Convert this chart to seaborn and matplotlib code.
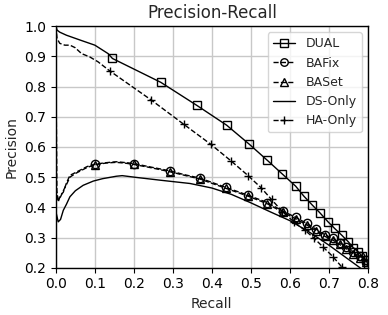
import matplotlib
matplotlib.use("Agg")
import matplotlib.pyplot as plt
import seaborn as sns

# curves (recall, precision); the first point is the
# usual (0, 1) end of a precision-recall curve
dual_recall = [0.0, 0.003, 0.01, 0.027, 0.062, 0.1, 0.134, 0.145, 0.269, 0.361,
               0.438, 0.496, 0.542, 0.581, 0.615, 0.636, 0.658, 0.677, 0.698,
               0.715, 0.733, 0.75, 0.762, 0.775, 0.786, 0.796, 0.8]
dual_precision = [1.0, 0.987, 0.98, 0.97, 0.954, 0.937, 0.909, 0.893, 0.814, 0.738,
                  0.672, 0.609, 0.556, 0.51, 0.47, 0.437, 0.407, 0.382, 0.352,
                  0.33, 0.308, 0.286, 0.267, 0.253, 0.238, 0.225, 0.212]
dual_marks = [0.145, 0.269, 0.361, 0.438, 0.496, 0.542, 0.581, 0.615, 0.636, 0.658,
              0.677, 0.698, 0.715, 0.733, 0.75, 0.762, 0.775, 0.786, 0.796, 0.8]

bafix_recall = [0.0, 0.002, 0.006, 0.012, 0.019, 0.027, 0.036, 0.05, 0.062, 0.08,
                0.1, 0.13, 0.155, 0.18, 0.2, 0.241, 0.292, 0.33, 0.369, 0.436,
                0.493, 0.542, 0.583, 0.615, 0.643, 0.668, 0.69, 0.711, 0.728,
                0.745, 0.762, 0.779, 0.795, 0.8]
bafix_precision = [1.0, 0.457, 0.418, 0.44, 0.45, 0.48, 0.506, 0.515, 0.523, 0.535,
                   0.543, 0.548, 0.551, 0.548, 0.545, 0.534, 0.521, 0.508, 0.497, 0.466,
                   0.44, 0.416, 0.387, 0.367, 0.347, 0.327, 0.309, 0.297, 0.283,
                   0.269, 0.253, 0.238, 0.225, 0.21]
bafix_marks = [0.1, 0.2, 0.292, 0.369, 0.436, 0.493, 0.542, 0.583, 0.615, 0.643,
               0.668, 0.69, 0.711, 0.728, 0.745, 0.762, 0.779, 0.795]

baset_recall = [0.0, 0.002, 0.006, 0.012, 0.019, 0.027, 0.036, 0.05, 0.062, 0.08,
                0.1, 0.13, 0.155, 0.18, 0.2, 0.241, 0.292, 0.33, 0.369, 0.436,
                0.493, 0.542, 0.583, 0.615, 0.643, 0.668, 0.69, 0.711, 0.728,
                0.745, 0.762, 0.779, 0.795, 0.8]
baset_precision = [1.0, 0.45, 0.425, 0.435, 0.455, 0.475, 0.5, 0.512, 0.52, 0.532,
                   0.541, 0.547, 0.549, 0.546, 0.542, 0.532, 0.518, 0.506, 0.494, 0.463,
                   0.437, 0.412, 0.383, 0.362, 0.342, 0.322, 0.304, 0.291, 0.277,
                   0.263, 0.247, 0.232, 0.218, 0.205]
baset_marks = bafix_marks

ds_recall = [0.0, 0.001, 0.006, 0.012, 0.019, 0.027, 0.036, 0.05, 0.07, 0.096,
             0.12, 0.155, 0.17, 0.207, 0.267, 0.344, 0.4, 0.45, 0.5, 0.55,
             0.6, 0.65, 0.7, 0.75, 0.78, 0.79]
ds_precision = [1.0, 0.38, 0.352, 0.36, 0.39, 0.41, 0.435, 0.455, 0.473, 0.487,
                0.495, 0.503, 0.505, 0.499, 0.49, 0.479, 0.464, 0.443, 0.415, 0.385,
                0.356, 0.318, 0.275, 0.228, 0.2, 0.19]

ha_recall = [0.0, 0.003, 0.01, 0.023, 0.036, 0.049, 0.066, 0.087, 0.108, 0.138,
             0.245, 0.328, 0.397, 0.449, 0.493, 0.527, 0.553, 0.581, 0.61, 0.638,
             0.662, 0.685, 0.711, 0.733, 0.74]
ha_precision = [1.0, 0.959, 0.943, 0.937, 0.937, 0.929, 0.909, 0.898, 0.882, 0.852,
                0.755, 0.675, 0.609, 0.554, 0.505, 0.464, 0.426, 0.386, 0.352, 0.325,
                0.298, 0.269, 0.236, 0.203, 0.19]
ha_marks = [0.138, 0.245, 0.328, 0.397, 0.449, 0.493, 0.527, 0.553, 0.581, 0.61,
            0.638, 0.662, 0.685, 0.711, 0.733]

sns.set_style("ticks")
plt.rcParams['font.family'] = ['DejaVu Sans']

fig = plt.figure(figsize=(3.88, 3.15), dpi=100)
ax = fig.add_axes([0.144, 0.150, 0.804, 0.767])


def draw(rec, prec, marks, label, marker, ls):
    idx = [i for i, r in enumerate(rec) if r in marks] if marks else None
    kws = dict(color='black', linewidth=1.0, linestyle=ls, label=label,
               estimator=None, sort=False, errorbar=None, ax=ax)
    if marker:
        kws.update(marker=marker, markevery=idx, markersize=6,
                   markerfacecolor='none', markeredgecolor='black',
                   markeredgewidth=1.0)
    sns.lineplot(x=rec, y=prec, **kws)


draw(dual_recall, dual_precision, dual_marks, 'DUAL', 's', '-')
draw(bafix_recall, bafix_precision, bafix_marks, 'BAFix', 'o', '--')
draw(baset_recall, baset_precision, baset_marks, 'BASet', '^', '--')
draw(ds_recall, ds_precision, None, 'DS-Only', None, '-')
draw(ha_recall, ha_precision, ha_marks, 'HA-Only', '+', '--')

ax.set_xlim(0, 0.8)
ax.set_ylim(0.2, 1.0)
ax.set_xticks([0.0, 0.1, 0.2, 0.3, 0.4, 0.5, 0.6, 0.7, 0.8])
ax.set_yticks([0.2, 0.3, 0.4, 0.5, 0.6, 0.7, 0.8, 0.9, 1.0])
ax.grid(True, color='#c8c8c8', linewidth=1.0)
ax.set_axisbelow(True)
for s in ax.spines.values():
    s.set_color('black')
    s.set_linewidth(1.0)
ax.tick_params(labelsize=10, colors='black', length=3.5)
ax.set_xlabel('Recall', fontsize=10)
ax.set_ylabel('Precision', fontsize=10)
ax.set_title('Precision-Recall', fontsize=12)
ax.legend(loc='upper right', fontsize=9, frameon=True, handlelength=1.8,
          borderaxespad=0.5, labelspacing=0.5, markerscale=0.9)

fig.savefig('out.png', dpi=100)
